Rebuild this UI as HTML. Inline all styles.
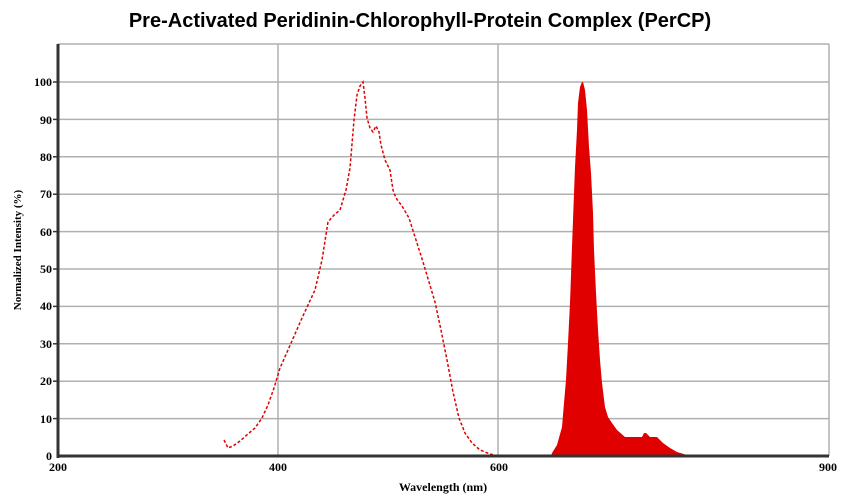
<!DOCTYPE html>
<html><head><style>body{margin:0;background:#fff}svg{display:block}</style></head><body>
<svg width="844" height="498" xmlns="http://www.w3.org/2000/svg">
<text x="420" y="27" text-anchor="middle" font-family="Liberation Sans, sans-serif" font-weight="bold" font-size="20">Pre-Activated  Peridinin-Chlorophyll-Protein  Complex  (PerCP)</text>
<g stroke="#b0b0b0" stroke-width="1.5">
<line x1="58" y1="44" x2="829" y2="44"/>
<line x1="829" y1="44" x2="829" y2="456"/>
<line x1="278" y1="44" x2="278" y2="456"/>
<line x1="498" y1="44" x2="498" y2="456"/>
<line x1="58" y1="82" x2="829" y2="82"/><line x1="58" y1="119.4" x2="829" y2="119.4"/><line x1="58" y1="156.8" x2="829" y2="156.8"/><line x1="58" y1="194.2" x2="829" y2="194.2"/><line x1="58" y1="231.6" x2="829" y2="231.6"/><line x1="58" y1="269" x2="829" y2="269"/><line x1="58" y1="306.4" x2="829" y2="306.4"/><line x1="58" y1="343.8" x2="829" y2="343.8"/><line x1="58" y1="381.2" x2="829" y2="381.2"/><line x1="58" y1="418.6" x2="829" y2="418.6"/>
</g>
<polygon fill="#e00000" points="551,456 552,453 557,445 562,427 564,403 566,380 568,343 570,303 572,247 573,220 575,167 577,130 578,103 580,87 582,82 583,82 585,90 587,110 589,147 591,173 593,213 594,250 596,293 598,330 600,360 602,383 605,407 608,417 612,423 617,430 625,437 642,437 644,433 646,433 650,437 657,437 663,443 670,448 677,452 687,455 715,456"/>
<polyline fill="none" stroke="#e00000" stroke-width="1.5" stroke-dasharray="3,2" points="224,440 228,448 233,446 240,441 248,434 255,428 262,418 268,405 274,388 280,368 288,350 295,334 302,318 308,305 315,290 322,260 328,222 334,215 340,210 346,190 350,168 354,120 357,95 360,86 363,82 365,98 367,118 370,128 373,132 376,126 379,132 381,145 385,160 390,170 393,190 396,198 402,206 409,218 416,240 423,262 429,282 435,302 441,330 447,360 453,392 459,418 465,433 472,443 480,450 490,454 498,456 551,456"/>
<line x1="58" y1="456" x2="829" y2="456" stroke="#333" stroke-width="3"/>
<line x1="58" y1="44" x2="58" y2="458" stroke="#333" stroke-width="3"/>
<g font-family="Liberation Serif, serif" font-weight="bold" font-size="12" text-anchor="end">
<text x="52" y="86">100</text><text x="52" y="124">90</text><text x="52" y="161">80</text><text x="52" y="198">70</text><text x="52" y="236">60</text><text x="52" y="273">50</text><text x="52" y="310">40</text><text x="52" y="348">30</text><text x="52" y="385">20</text><text x="52" y="423">10</text><text x="52" y="460">0</text>
</g>
<g stroke="#333" stroke-width="1.5"><line x1="53" y1="82" x2="58" y2="82"/><line x1="53" y1="119.4" x2="58" y2="119.4"/><line x1="53" y1="156.8" x2="58" y2="156.8"/><line x1="53" y1="194.2" x2="58" y2="194.2"/><line x1="53" y1="231.6" x2="58" y2="231.6"/><line x1="53" y1="269" x2="58" y2="269"/><line x1="53" y1="306.4" x2="58" y2="306.4"/><line x1="53" y1="343.8" x2="58" y2="343.8"/><line x1="53" y1="381.2" x2="58" y2="381.2"/><line x1="53" y1="418.6" x2="58" y2="418.6"/></g>
<g font-family="Liberation Serif, serif" font-weight="bold" font-size="12" text-anchor="middle">
<text x="58" y="471">200</text><text x="278" y="471">400</text><text x="499" y="471">600</text><text x="828" y="471">900</text>
<text x="443" y="491">Wavelength (nm)</text>
<text transform="translate(21,250) rotate(-90)" font-size="11">Normalized Intensity (%)</text>
</g>
</svg>
</body></html>
